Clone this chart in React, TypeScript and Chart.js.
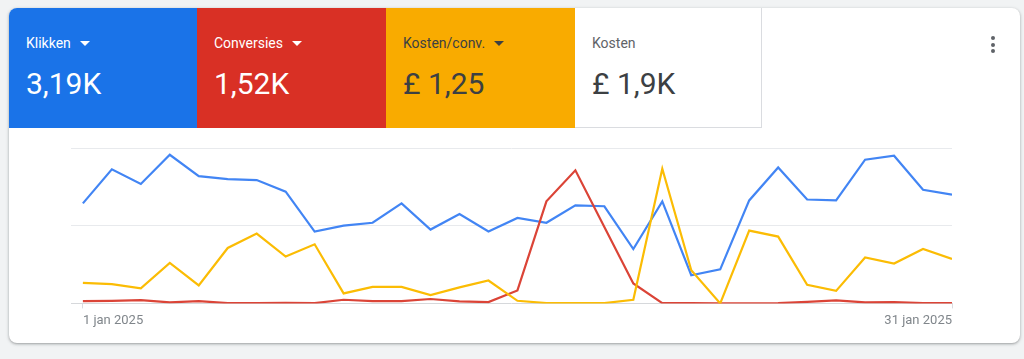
import React, { useEffect, useRef } from "react";
import { Chart, registerables } from "chart.js";

Chart.register(...registerables);

const days = [1,2,3,4,5,6,7,8,9,10,11,12,13,14,15,16,17,18,19,20,21,22,23,24,25,26,27,28,29,30,31];
const clicks = [103,138,123,153,131,128,127,115,74,80,83,103,76,92,74,88,83,101,100,56,105,29,35,106,140,107,106,148,152,117,112];
const conversions = [9,10,13,4,9,1,1,2,1,14,9,9,17,8,5,50,394,514,295,77,1,1,0,0,1,6,12,4,5,1,1];
const costPerConv = [5.29,4.95,3.85,10.42,4.62,14.27,17.97,12.07,15.22,2.57,4.26,4.26,2.13,4.11,5.9,0.67,0.08,0.08,0.08,0.92,34.65,8.55,0,18.74,17.2,4.77,3.23,11.81,10.27,14.02,11.45];
const tickDays = [1, 31];
const tickLabels = ["1 jan 2025", "31 jan 2025"];

const tiles = [
  { label: "Klikken", value: "3,19K", bg: "#1a73e8", fg: "#ffffff", labelFg: "#ffffff", arrow: true },
  { label: "Conversies", value: "1,52K", bg: "#d93025", fg: "#ffffff", labelFg: "#ffffff", arrow: true },
  { label: "Kosten/conv.", value: "£ 1,25", bg: "#f9ab00", fg: "#3c4043", labelFg: "#3c4043", arrow: true },
  { label: "Kosten", value: "£ 1,9K", bg: "#ffffff", fg: "#3c4043", labelFg: "#5f6368", arrow: false },
];

const FONT = "Roboto, 'Noto Sans', Arial, sans-serif";

export default function App() {
  const ref = useRef<HTMLCanvasElement>(null);

  useEffect(() => {
    if (!ref.current) return;
    const toPts = (arr: number[]) => days.map((d, i) => ({ x: d, y: arr[i] }));
    const chart = new Chart(ref.current, {
      type: "line",
      data: {
        datasets: [
          { label: "Kosten/conv.", data: toPts(costPerConv), yAxisID: "y2", borderColor: "#fbbc04", borderWidth: 2.2, pointRadius: 0, tension: 0, order: 0 },
          { label: "Conversies", data: toPts(conversions), yAxisID: "y1", borderColor: "#db4437", borderWidth: 2.2, pointRadius: 0, tension: 0, order: 1 },
          { label: "Klikken", data: toPts(clicks), yAxisID: "y", borderColor: "#4285f4", borderWidth: 2.2, pointRadius: 0, tension: 0, order: 2 },
        ],
      },
      options: {
        animation: false,
        responsive: false,
        layout: { padding: { left: 11, right: 18, top: 18, bottom: 6 } },
        plugins: { legend: { display: false }, tooltip: { enabled: false } },
        scales: {
          x: {
            type: "linear",
            min: 0.59,
            max: 31,
            border: { display: false },
            grid: { drawOnChartArea: false, drawTicks: true, tickLength: 5, color: "#dadce0" },
            afterBuildTicks: (axis: any) => {
              axis.ticks = tickDays.map((v) => ({ value: v }));
            },
            ticks: {
              align: "inner",
              maxRotation: 0,
              padding: 5,
              color: "#80868b",
              font: { family: FONT, size: 13 },
              callback: (v: any) => {
                const idx = tickDays.indexOf(Number(v));
                return idx >= 0 ? tickLabels[idx] : "";
              },
            },
          },
          y: {
            min: 0,
            max: 160,
            border: { display: false },
            grid: {
              drawTicks: false,
              color: (c: any) => (c.tick && c.tick.value === 0 ? "#d6d8db" : "#e8eaed"),
            },
            ticks: { display: false, stepSize: 80 },
          },
          y1: { display: false, min: 0, max: 600 },
          y2: { display: false, min: 0, max: 40 },
        },
      },
    } as any);
    return () => chart.destroy();
  }, []);

  let left = 0;
  const widths = [188, 189, 189, 187];

  return (
    <div style={{ position: "fixed", inset: 0, background: "#f1f3f4", fontFamily: FONT }}>
      <div
        style={{
          position: "absolute",
          left: 9,
          top: 8,
          width: 1011,
          height: 335,
          background: "#ffffff",
          borderRadius: 8,
          overflow: "hidden",
          boxShadow: "0 1px 2px rgba(60,64,67,0.3), 0 1px 3px 1px rgba(60,64,67,0.15)",
        }}
      >
        {tiles.map((t, i) => {
          const l = left;
          left += widths[i];
          const isWhite = t.bg === "#ffffff";
          return (
            <div
              key={t.label}
              style={{
                position: "absolute",
                left: l,
                top: 0,
                width: widths[i],
                height: 120,
                background: t.bg,
                boxSizing: "border-box",
                borderRight: isWhite ? "1px solid #dadce0" : "none",
                borderBottom: isWhite ? "1px solid #dadce0" : "none",
              }}
            >
              <div
                style={{
                  position: "absolute",
                  left: 17,
                  top: 25,
                  fontSize: 14,
                  lineHeight: "20px",
                  fontWeight: 400,
                  color: t.labelFg,
                  whiteSpace: "nowrap",
                  display: "flex",
                  alignItems: "center",
                }}
              >
                {t.label}
                {t.arrow ? (
                  <span
                    style={{
                      display: "inline-block",
                      marginLeft: 9,
                      width: 0,
                      height: 0,
                      borderLeft: "5px solid transparent",
                      borderRight: "5px solid transparent",
                      borderTop: "5px solid " + t.labelFg,
                    }}
                  />
                ) : null}
              </div>
              <div
                style={{
                  position: "absolute",
                  left: 17,
                  top: 58,
                  fontSize: 30,
                  lineHeight: "36px",
                  fontWeight: 400,
                  color: t.fg,
                  whiteSpace: "nowrap",
                }}
              >
                {t.value}
              </div>
            </div>
          );
        })}
        {[30, 36.5, 43].map((y) => (
          <div
            key={y}
            style={{
              position: "absolute",
              left: 982,
              top: y - 2,
              width: 4,
              height: 4,
              borderRadius: 2,
              background: "#5f6368",
            }}
          />
        ))}
      </div>
      <canvas
        ref={ref}
        width={910}
        height={210}
        style={{ position: "absolute", left: 60, top: 130, width: 910, height: 210 }}
      />
    </div>
  );
}
